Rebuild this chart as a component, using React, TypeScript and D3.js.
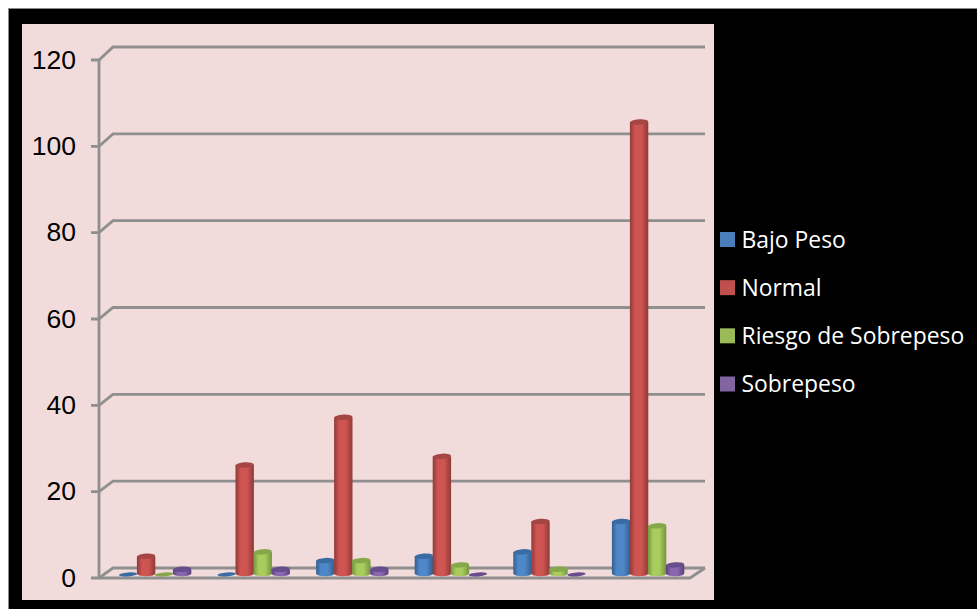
import React from "react";
import * as d3 from "d3";

const groups = ["1", "2", "3", "4", "5", "6"];
const seriesNames = ["Bajo Peso", "Normal", "Riesgo de Sobrepeso", "Sobrepeso"];
const bajoPeso = [0, 0, 3, 4, 5, 12];
const normal = [4, 25, 36, 27, 12, 104];
const riesgo = [0, 5, 3, 2, 1, 11];
const sobrepeso = [1, 1, 1, 0, 0, 2];
const seriesValues = [bajoPeso, normal, riesgo, sobrepeso];
const yTicks = [0, 20, 40, 60, 80, 100, 120];

// Fill stops per series: edge shade, centre highlight, top cap, legend swatch
const palette = [
  { edge: "#335f92", mid: "#4f88c9", cap: "#3a6ca4", key: "#4a7ebb" },
  { edge: "#8f3a38", mid: "#cf5552", cap: "#a34644", key: "#c0504d" },
  { edge: "#76943f", mid: "#a8cd5d", cap: "#87a84a", key: "#9bbb59" },
  { edge: "#594178", mid: "#8a68b0", cap: "#684d8c", key: "#8064a2" },
];

const GRID = "#8f8f8f";
const barRx = 9.2;
const barRy = 2.7;
const baseY = 573.6;

// Front edge of the side wall, and the back wall set deeper into the scene
const y = d3.scaleLinear().domain([0, 120]).range([578, 60]);
const yBack = d3.scaleLinear().domain([0, 120]).range([568, 47]);
const xGroup = d3.scaleBand<string>().domain(groups).range([105.6, 697.2]);
const xSeries = d3
  .scaleBand<string>()
  .domain(seriesNames)
  .range([13.5, 85.5]);

export default function App() {
  const legendY = d3
    .scalePoint<string>()
    .domain(seriesNames)
    .range([239.5, 384]);

  return (
    <svg
      width={977}
      height={609}
      style={{ position: "absolute", left: 0, top: 0, display: "block" }}
    >
      <defs>
        {palette.map((p, i) => (
          <linearGradient id={`cyl-${i}`} key={i} x1="0" x2="1" y1="0" y2="0">
            <stop offset="0" stopColor={p.edge} />
            <stop offset="0.28" stopColor={p.mid} />
            <stop offset="0.62" stopColor={p.mid} />
            <stop offset="1" stopColor={p.edge} />
          </linearGradient>
        ))}
      </defs>

      <rect x={0} y={0} width={977} height={609} fill="#fff" />
      <rect x={8.5} y={8.5} width={969} height={601} fill="#000" stroke="#8a8a8a" />
      <rect x={22} y={24} width={692} height={576} fill="#f2dcdb" />

      {/* Wall gridlines with their side-wall diagonals and outer ticks */}
      {yTicks.map((t) => (
        <path
          key={t}
          d={`M91,${y(t)}H99L113,${yBack(t)}H705`}
          stroke={GRID}
          fill="none"
          strokeWidth={2.8}
        />
      ))}
      <path d={`M99,${y(120)}V${y(0)}`} stroke={GRID} strokeWidth={2.8} fill="none" />
      {/* Floor edges */}
      <path
        d={`M99,${y(0)}H690L705,${yBack(0)}`}
        stroke={GRID}
        strokeWidth={2.8}
        fill="none"
      />

      {/* Cylinder bars */}
      {groups.map((g, gi) =>
        seriesNames.map((s, si) => {
          const v = seriesValues[si][gi];
          const cx = xGroup(g)! + xSeries(s)! + xSeries.bandwidth() / 2;
          const top = baseY - (yBack(0) - yBack(v));
          const p = palette[si];
          const capY = v > 0 ? top : baseY + 0.8;
          return (
            <g key={`${g}-${s}`}>
              {v > 0 ? (
                <path
                  d={`M${cx - barRx},${top}V${baseY}A${barRx},${barRy} 0 0 0 ${cx + barRx},${baseY}V${top}Z`}
                  fill={`url(#cyl-${si})`}
                />
              ) : null}
              <ellipse
                cx={cx}
                cy={capY}
                rx={barRx}
                ry={v > 0 ? barRy : 2}
                fill={p.cap}
                transform={`rotate(-4 ${cx} ${capY})`}
              />
            </g>
          );
        })
      )}

      {/* Value axis labels */}
      {yTicks.map((t) => (
        <text
          key={t}
          x={76}
          y={y(t) + 8.5}
          textAnchor="end"
          fontFamily="'Liberation Sans', Arial, sans-serif"
          fontSize={26.5}
          fill="#000"
        >
          {t}
        </text>
      ))}

      {/* Legend */}
      {seriesNames.map((s, i) => (
        <g key={s}>
          <rect
            x={720}
            y={legendY(s)! - 7.5}
            width={15}
            height={15}
            fill={palette[i].key}
          />
          <text
            x={741.5}
            y={legendY(s)! + 8}
            fontFamily="'Open Sans', sans-serif"
            fontSize={22.9}
            fill="#fff"
          >
            {s}
          </text>
        </g>
      ))}
    </svg>
  );
}
